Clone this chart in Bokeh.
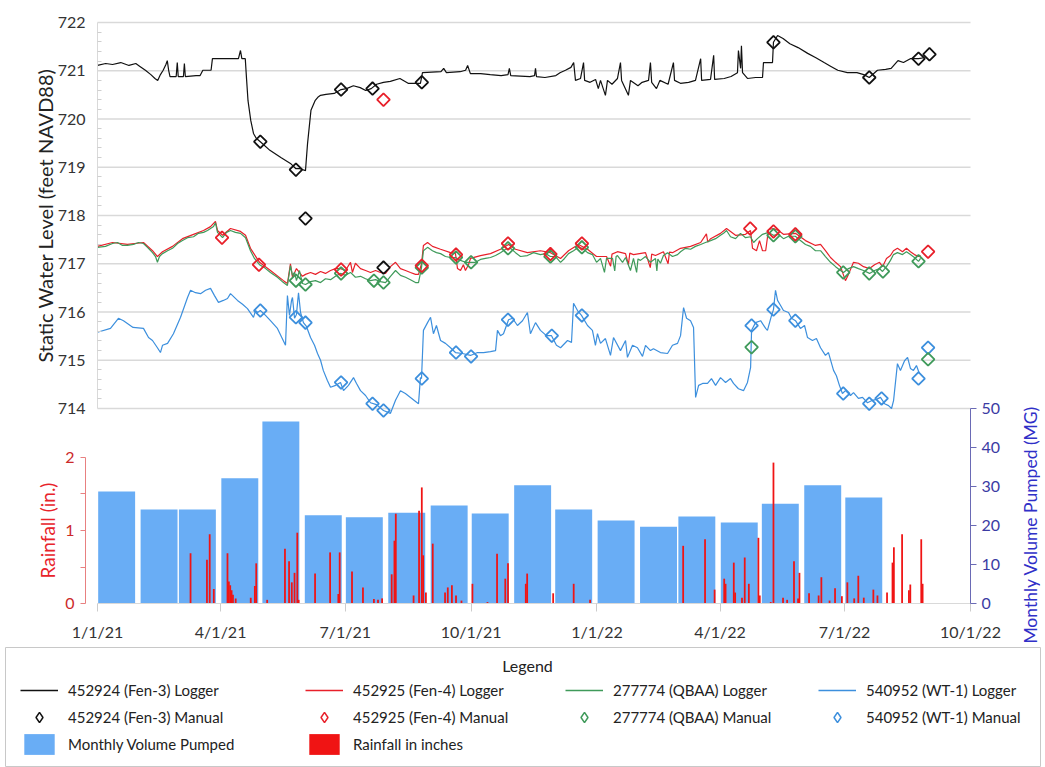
import math
from bokeh.plotting import figure
from bokeh.models import Range1d, LinearAxis, FixedTicker, Legend, LegendItem, Label
from bokeh.layouts import column
from bokeh.embed import file_html
from bokeh.resources import INLINE

FONT = "Lato"

# ---------------- data (x = days since 1/1/21) ----------------
x_tick_days = [0, 90, 181, 273, 365, 455, 546, 638]
x_tick_labels = ["1/1/21", "4/1/21", "7/1/21", "10/1/21", "1/1/22", "4/1/22", "7/1/22", "10/1/22"]
level_ticks = [714, 715, 716, 717, 718, 719, 720, 721, 722]
rain_ticks = [0, 1, 2]
mg_ticks = [0, 10, 20, 30, 40, 50]

pump_month_start = [0, 31, 59, 90, 120, 151, 181, 212, 243, 273, 304, 334, 365, 396, 424, 455, 485, 516, 546]
pump_mg = [28.7, 24.1, 24.1, 32.1, 46.7, 22.6, 22.1, 23.3, 25.1, 23.1, 30.3, 24.1, 21.3, 19.7, 22.3, 20.8, 25.6, 30.3, 27.2]

rain = [(68, 0.69), (80, 0.60), (82, 0.95), (85, 0.20), (95, 0.69), (96, 0.30), (97, 0.25), (98, 0.18), (99, 0.12),
        (101, 0.07), (112, 0.08), (115, 0.24), (116, 0.55), (124, 0.05), (137, 0.75), (140, 0.58), (142, 0.29),
        (144, 0.42), (146, 0.97), (147, 0.05), (159, 0.41), (170, 0.70), (176, 0.13), (177, 0.70), (186, 0.44),
        (194, 0.22), (202, 0.06), (205, 0.05), (208, 0.07), (215, 0.40), (217, 0.86), (218, 1.23), (231, 0.11),
        (235, 1.27), (237, 1.59), (238, 0.66), (240, 0.15), (245, 0.82), (254, 0.15), (256, 0.22), (259, 0.25),
        (262, 0.11), (266, 0.04), (274, 0.27), (285, 0.02), (292, 0.68), (298, 0.34), (300, 0.55), (313, 0.27),
        (314, 0.41), (333, 0.14), (348, 0.27), (360, 0.05), (428, 0.79), (444, 0.88), (451, 0.19), (458, 0.34),
        (459, 0.27), (465, 0.56), (466, 0.15), (471, 0.08), (473, 0.63), (476, 0.27), (483, 0.90), (484, 0.11),
        (492, 0.02), (494, 1.93), (501, 0.08), (504, 0.05), (509, 0.58), (512, 0.07), (513, 0.42), (520, 0.14),
        (527, 0.11), (529, 0.36), (535, 0.04), (539, 0.21), (544, 0.10), (548, 0.29), (553, 0.07), (556, 0.38),
        (560, 0.08), (567, 0.19), (570, 0.11), (577, 0.15), (581, 0.56), (582, 0.77), (588, 0.95), (593, 0.18),
        (594, 0.26), (602, 0.88), (603, 0.27)]

fen3_logger = [(0, 721.11), (6, 721.15), (11, 721.13), (17, 721.17), (23, 721.11), (28, 721.15), (31, 721.09),
               (35, 721.01), (39, 720.92), (42, 720.84), (44, 720.80), (46, 720.92), (48, 721.01), (50, 721.13),
               (51, 721.21), (52, 721.01), (53, 720.88), (57.5, 720.88), (58.3, 721.17), (59, 720.88), (62.8, 720.88),
               (63.5, 721.15), (64.2, 720.88), (72, 720.90), (75, 720.90), (77, 721.01), (83, 721.01), (84, 721.25),
               (94, 721.25), (103, 721.25), (104.5, 721.42), (105.5, 721.25), (108, 721.25), (109, 720.80),
               (110, 720.38), (112, 719.97), (114, 719.70), (116, 719.60), (119, 719.53), (126, 719.35),
               (134, 719.20), (141, 719.08), (145, 718.97), (148, 718.97), (152, 718.93), (153.5, 719.49),
               (156, 720.18), (159, 720.38), (161, 720.45), (163, 720.49), (167, 720.51), (173, 720.53),
               (178, 720.61), (182, 720.63), (187, 720.69), (192, 720.65), (196, 720.59), (200, 720.63),
               (204, 720.72), (209, 720.76), (214, 720.78), (221, 720.84), (227, 720.74), (232, 720.74),
               (236, 720.74), (237.5, 720.96), (251, 720.98), (253, 721.05), (255, 720.96), (265, 720.98),
               (269, 721.01), (270.5, 721.11), (272.5, 720.94), (280, 720.94), (287, 720.92), (295, 720.90),
               (300, 720.92), (301, 721.05), (302, 720.90), (316, 720.88), (319.4, 720.90), (320.1, 721.05),
               (320.8, 720.88), (327, 720.86), (335, 720.90), (338, 720.96), (342, 721.01), (346, 721.07),
               (348, 721.17), (349.3, 720.80), (353, 720.84), (355.2, 721.17), (356, 720.80), (360, 720.76),
               (364, 720.82), (366, 720.63), (367.6, 720.80), (371.2, 720.49), (372.7, 720.80), (376, 720.72),
               (380, 720.84), (382.2, 721.17), (383, 720.80), (388, 720.49), (389.5, 720.80), (395, 720.69),
               (398, 720.76), (402.7, 720.80), (404.1, 721.17), (405, 720.76), (408.5, 720.63), (411, 720.80),
               (417, 720.72), (420.9, 721.17), (421.7, 720.80), (426, 720.74), (432, 720.76), (437, 720.80),
               (440.8, 721.25), (441.5, 720.80), (448, 720.82), (450.3, 721.32), (451, 720.82), (458, 720.84),
               (463, 720.88), (467.7, 720.96), (468.4, 721.42), (470, 721.05), (470.6, 721.52), (471.4, 720.96),
               (475, 720.84), (481, 720.86), (486, 720.86), (486.7, 721.17), (493.3, 721.17), (494, 721.59),
               (497, 721.73), (501, 721.67), (506, 721.56), (512, 721.48), (519, 721.36), (525, 721.27),
               (531, 721.17), (536, 721.09), (541, 721.01), (548, 720.96), (555, 720.96), (560, 720.92),
               (564, 720.86), (570, 721.01), (576, 721.03), (580, 721.05), (585, 721.21), (589, 721.17),
               (594, 721.25), (600, 721.25), (604, 721.27)]

fen4_logger = [(0, 717.36), (11, 717.44), (21.9, 717.40), (33.6, 717.44), (40.2, 717.27), (43.8, 717.15),
               (47.5, 717.25), (54.8, 717.36), (62.1, 717.52), (70.2, 717.61), (77.5, 717.69), (82.6, 717.77),
               (86.2, 717.88), (87.7, 717.69), (91.4, 717.59), (97.2, 717.73), (104.5, 717.67), (108.2, 717.59),
               (111.8, 717.32), (118.4, 717.03), (126.4, 716.86), (135.9, 716.65), (138.8, 716.59), (141, 717.00),
               (142.5, 716.72), (145.4, 716.90), (149.8, 716.74), (152, 716.78), (155.7, 716.82), (159.3, 716.78),
               (163, 716.84), (166.6, 716.80), (170.3, 716.86), (173.9, 716.90), (177.6, 716.90), (181.2, 716.86),
               (184.9, 717.03), (186.3, 716.82), (188.5, 717.01), (192.2, 716.90), (195.9, 716.86), (199.5, 716.82),
               (203.2, 716.86), (206.8, 716.82), (210.5, 716.80), (214.1, 716.94), (217.8, 717.03), (221.4, 716.90),
               (225.1, 716.86), (228.7, 716.82), (232.4, 716.78), (234.6, 716.78), (236.8, 717.00), (238.2, 717.38),
               (241.2, 717.44), (244.8, 717.36), (250.7, 717.30), (258, 717.23), (261.6, 717.21), (263.1, 716.90),
               (265.3, 716.86), (267.4, 716.98), (268.9, 716.86), (271.1, 716.98), (272.6, 717.11), (279.9, 717.17),
               (287.2, 717.21), (294.5, 717.30), (300.4, 717.40), (305.5, 717.30), (314.2, 717.23), (323.7, 717.27),
               (331, 717.23), (338.4, 717.11), (344.2, 717.27), (351.5, 717.40), (358.1, 717.30), (364.7, 717.15),
               (372, 717.15), (375, 716.95), (376, 717.20), (380, 717.25), (385.9, 717.21), (388, 716.98),
               (389, 717.22), (391.7, 717.19), (400.5, 717.23), (404, 716.92), (405, 717.20), (407.8, 717.17),
               (413.6, 717.25), (417, 717.00), (418, 717.24), (420.2, 717.23), (426.1, 717.32), (433.4, 717.36),
               (440.8, 717.44), (445, 717.62), (446, 717.45), (448.1, 717.52), (455.3, 717.63), (459.7, 717.73),
               (466.3, 717.59), (473.6, 717.61), (477.2, 717.69), (478.7, 717.32), (481.6, 717.27), (483.8, 717.48),
               (486, 717.27), (488.3, 717.27), (490.4, 717.71), (494, 717.73), (497.6, 717.69), (501.3, 717.61),
               (510, 717.63), (517.4, 717.48), (524.7, 717.38), (528.4, 717.40), (532, 717.27), (535.7, 717.13),
               (539.4, 717.03), (543, 716.94), (546.6, 716.65), (548.8, 716.78), (552.5, 717.03), (556.1, 717.01),
               (559.8, 716.94), (564.2, 716.90), (567.9, 716.98), (571.5, 717.03), (573.7, 716.94), (576.6, 717.11),
               (579.5, 717.17), (581.7, 717.27), (584.6, 717.32), (588.3, 717.25), (591.2, 717.32), (594.1, 717.25),
               (597, 717.19), (600, 717.15), (601.5, 717.17)]

qbaa_logger = [(0, 717.34), (5.8, 717.36), (11, 717.42), (14.6, 717.44), (18.3, 717.38), (21.9, 717.38),
               (26.3, 717.40), (30, 717.44), (33.6, 717.42), (36.5, 717.34), (40.2, 717.23), (42.4, 717.15),
               (43.8, 717.03), (45.3, 717.15), (47.5, 717.21), (51.2, 717.27), (54.8, 717.32), (58.5, 717.42),
               (62.1, 717.48), (65.8, 717.54), (70.2, 717.56), (73.8, 717.63), (77.5, 717.65), (80.4, 717.69),
               (82.6, 717.73), (84.8, 717.77), (86.2, 717.85), (87.7, 717.65), (91.4, 717.54), (94.3, 717.65),
               (97.2, 717.69), (100.8, 717.65), (104.5, 717.63), (108.2, 717.54), (111.8, 717.27), (114.7, 717.11),
               (118.4, 716.98), (122, 716.92), (126.4, 716.82), (131.5, 716.72), (135.9, 716.61), (138.8, 716.55),
               (141, 716.96), (142.5, 716.76), (144, 716.82), (145.4, 716.65), (147.6, 716.86), (149.8, 716.59),
               (152, 716.57), (155.7, 716.63), (159.3, 716.65), (163, 716.61), (166.6, 716.69), (170.3, 716.67),
               (173.9, 716.74), (177.6, 716.80), (181.2, 716.76), (184.9, 716.82), (188.5, 716.72), (192.2, 716.74),
               (195.9, 716.69), (199.5, 716.65), (203.2, 716.67), (206.8, 716.63), (210.5, 716.61), (214.1, 716.74),
               (217.8, 716.86), (221.4, 716.76), (225.1, 716.72), (228.7, 716.67), (232.4, 716.61), (234.6, 716.61),
               (236.8, 716.92), (238.2, 717.27), (241.2, 717.34), (244.8, 717.27), (247.7, 717.23), (250.7, 717.21),
               (254.3, 717.15), (258, 717.13), (261.6, 717.13), (265.3, 717.07), (268.9, 717.03), (272.6, 717.03),
               (276.2, 717.03), (279.9, 717.09), (283.5, 717.11), (287.2, 717.13), (290.9, 717.17), (294.5, 717.23),
               (298.2, 717.30), (301.8, 717.32), (305.5, 717.23), (309.1, 717.15), (314.2, 717.17), (318.6, 717.23),
               (323.7, 717.19), (327.4, 717.21), (331, 717.15), (334.7, 717.15), (338.4, 717.03), (341.3, 717.11),
               (344.2, 717.21), (347.9, 717.27), (351.5, 717.34), (354.4, 717.32), (358.1, 717.23), (361.7, 717.19),
               (364.7, 717.03), (367.6, 717.11), (370.5, 716.82), (372, 717.11), (376.4, 717.11), (378, 716.85),
               (379, 717.15), (380, 717.17), (383.7, 717.03), (385.9, 717.13), (389.5, 716.86), (391.7, 717.11),
               (394, 716.82), (395, 717.10), (396.8, 717.07), (400.5, 717.15), (404.1, 717.03), (407.8, 717.11),
               (408.8, 716.85), (409.5, 717.10), (411.4, 717.01), (413.6, 717.17), (416.6, 717.23), (420.2, 717.15),
               (423.9, 717.19), (426.1, 717.25), (429.7, 717.32), (433.4, 717.30), (437, 717.36), (440.8, 717.40),
               (444.3, 717.44), (448.1, 717.48), (451.7, 717.52), (455.3, 717.59), (457.5, 717.63), (459.7, 717.69),
               (462.6, 717.56), (466.3, 717.52), (469.9, 717.63), (473.6, 717.54), (477.2, 717.56), (479.5, 717.44),
               (482.3, 717.52), (486, 717.61), (490.4, 717.65), (494, 717.59), (497.6, 717.61), (501.3, 717.52),
               (505, 717.57), (510, 717.57), (513.7, 717.48), (517.4, 717.40), (521, 717.36), (524.7, 717.27),
               (528.4, 717.27), (532, 717.15), (535.7, 717.03), (539.4, 716.94), (543, 716.86), (545.2, 716.82),
               (548.8, 716.90), (552.5, 716.94), (556.1, 716.90), (559.8, 716.86), (564.2, 716.80), (567.9, 716.86),
               (571.5, 716.90), (573.7, 716.84), (576.6, 716.94), (579.5, 717.07), (581.7, 717.19), (584.6, 717.23),
               (588.3, 717.19), (591.2, 717.25), (594.1, 717.19), (597, 717.13), (600, 717.05), (601.5, 717.11)]

wt1_logger = [(0, 715.58), (9.5, 715.66), (15.3, 715.87), (19, 715.82), (26, 715.68), (33.6, 715.66), (37.3, 715.47),
              (40.2, 715.41), (43.8, 715.26), (46, 715.16), (47.5, 715.31), (51.2, 715.35), (55.5, 715.55),
              (60.7, 715.89), (65.8, 716.30), (68, 716.45), (71.6, 716.40), (75.3, 716.38), (79, 716.45),
              (82.6, 716.49), (85.5, 716.34), (88.4, 716.20), (92, 716.24), (95, 716.28), (97.2, 716.38),
              (102.3, 716.24), (106, 716.16), (109.6, 716.07), (114, 715.89), (115.5, 716.03), (117, 715.99),
              (119, 716.03), (122.8, 715.93), (126.4, 715.82), (131.5, 715.66), (137.4, 715.31), (138.8, 716.34),
              (140.3, 715.93), (141.8, 716.24), (142.5, 716.30), (144, 715.87), (145.4, 715.95), (146.9, 716.40),
              (148.4, 715.99), (150.5, 715.78), (152.7, 715.70), (155.7, 715.47), (158.6, 715.31), (160.8, 715.14),
              (163, 715.00), (165, 714.79), (168, 714.58), (170.3, 714.44), (174, 714.48), (177.6, 714.54),
              (179.8, 714.37), (183.4, 714.48), (187.1, 714.64), (189.3, 714.52), (192.2, 714.37), (195.9, 714.27),
              (199.5, 714.12), (203.9, 714.08), (209, 713.96), (214.1, 713.90), (217.8, 714.17), (221.4, 714.37),
              (225, 714.31), (228.7, 714.23), (234.6, 714.10), (236, 714.64), (236.8, 714.62), (238.2, 715.62),
              (241.2, 715.78), (243.4, 715.89), (245.5, 715.55), (247.7, 715.72), (250.7, 715.41), (254.3, 715.35),
              (258, 715.26), (261.6, 715.16), (266.7, 715.14), (272.6, 715.10), (277.7, 715.16), (282.1, 715.16),
              (287.2, 715.18), (290.9, 715.20), (292.3, 715.62), (294.5, 715.51), (296.7, 715.55), (300.4, 715.84),
              (303.3, 715.87), (306.9, 715.72), (310.6, 715.82), (314.2, 715.99), (316.4, 715.55), (320.1, 715.78),
              (323.7, 715.62), (328.1, 715.51), (331.8, 715.51), (335.4, 715.31), (338.4, 715.26), (343.5, 715.41),
              (346.4, 715.37), (347.9, 716.18), (350.8, 716.03), (353.7, 715.93), (358.1, 715.72), (361.7, 715.62),
              (363.9, 715.31), (365.4, 715.55), (367.6, 715.35), (371.2, 715.45), (374.9, 715.10), (377.1, 715.47),
              (382.2, 715.20), (385.9, 715.41), (387.3, 715.06), (391, 715.31), (394.6, 715.26), (398.3, 715.08),
              (400.5, 715.31), (404.1, 715.20), (406.3, 715.24), (411.4, 715.16), (416.6, 715.14), (420.2, 715.31),
              (423.9, 715.35), (426.1, 715.51), (428.3, 716.09), (430.5, 715.87), (433.4, 715.82), (435.6, 715.68),
              (437.1, 714.23), (439.3, 714.48), (442.2, 714.52), (445.8, 714.52), (448.7, 714.62), (451.7, 714.48),
              (455.3, 714.64), (459, 714.54), (462.6, 714.62), (464.8, 714.52), (468.4, 714.41), (472.1, 714.37),
              (475, 714.54), (477.3, 714.85), (478, 715.62), (480.9, 715.78), (484.6, 715.82), (488.3, 715.66),
              (489.6, 715.62), (492.6, 715.93), (494, 716.05), (495.5, 716.45), (497, 716.24), (499.1, 716.14),
              (501.3, 716.03), (505, 715.99), (507.2, 715.87), (510.1, 715.82), (513.7, 715.66), (516.7, 715.72),
              (518.9, 715.47), (522.5, 715.41), (525.4, 715.45), (528.4, 715.26), (532, 715.10), (534.2, 715.16),
              (537.9, 714.79), (540, 714.68), (542.2, 714.48), (544.4, 714.31), (546.6, 714.37), (550.3, 714.27),
              (552.5, 714.33), (556.1, 714.21), (559.1, 714.23), (562.7, 714.12), (566.4, 714.17), (569.3, 714.19),
              (572.2, 714.23), (575.2, 714.10), (578.1, 714.06), (580.3, 714.00), (581.8, 714.17), (584.6, 714.93),
              (586.8, 714.79), (589.8, 714.99), (592, 715.06), (594.1, 714.83), (596.3, 714.79), (598.5, 714.89),
              (600.7, 714.72)]

fen3_manual = [(119, 719.53), (145, 718.95), (152, 717.94), (178, 720.61), (201, 720.63), (209, 716.92),
               (237, 720.76), (494, 721.59), (564, 720.86), (600, 721.25), (608, 721.34)]
fen4_manual = [(91, 717.54), (118, 716.98), (178, 716.88), (209, 720.40), (237, 716.96), (262, 717.19),
               (300, 717.42), (331, 717.20), (354, 717.42), (477, 717.73), (494, 717.67), (510, 717.61), (607, 717.25)]
qbaa_manual = [(145, 716.65), (152, 716.57), (178, 716.80), (202, 716.65), (209, 716.61), (237, 716.92),
               (262, 717.13), (273, 717.03), (300, 717.32), (331, 717.15), (354, 717.34), (478, 715.27),
               (494, 717.59), (510, 717.57), (545, 716.82), (564, 716.80), (574, 716.84), (600, 717.05), (607, 715.02)]
wt1_manual = [(119, 716.03), (145, 715.89), (152, 715.78), (178, 714.54), (201, 714.10), (209, 713.96),
              (237, 714.62), (262, 715.16), (273, 715.08), (300, 715.84), (332, 715.51), (354, 715.93),
              (478, 715.72), (494, 716.05), (510, 715.82), (545, 714.31), (564, 714.10), (573, 714.21),
              (600, 714.62), (607, 715.26)]

series_names = ["452924 (Fen-3)", "452925 (Fen-4)", "277774 (QBAA)", "540952 (WT-1)"]

# ---------------- styles ----------------
C_FEN3 = "#111111"
C_FEN4 = "#e8202a"
C_QBAA = "#3f9a5a"
C_WT1 = "#3c8fdd"
C_PUMP = "#69adf5"
C_RAIN = "#f01414"
GRID = "#d9d9d9"


def split(pairs):
    return [a for a, _ in pairs], [b for _, b in pairs]


# One frame covering the whole chart area; the axes are pinned with fixed_location.
p = figure(width=1045, height=647,
           x_range=Range1d(-67.23, 689.15), y_range=Range1d(709.047, 722.456),
           x_axis_location=None, y_axis_location=None,
           output_backend="svg", toolbar_location=None,
           min_border_left=5, min_border_right=5, min_border_top=0, min_border_bottom=0)
p.outline_line_color = None
p.grid.visible = False
p.extra_y_ranges = {"rain": Range1d(-0.6027, 8.260), "mg": Range1d(-11.28, 154.62)}

# horizontal grid lines of the water-level panel
n_lv = len(level_ticks)
p.segment(x0=[x_tick_days[0]] * n_lv, y0=level_ticks, x1=[x_tick_days[-1]] * n_lv, y1=level_ticks,
          line_color=GRID, line_width=1.6)

# water level axis
ya = LinearAxis(fixed_location=0, bounds=(714, 722),
                ticker=FixedTicker(ticks=level_ticks,
                                   minor_ticks=[714 + 0.2 * k for k in range(1, 40) if k % 5]))
ya.axis_line_color = GRID
ya.major_tick_in = 0
ya.major_tick_out = 0
ya.minor_tick_in = 4
ya.minor_tick_out = 0
ya.minor_tick_line_color = "#cfcfcf"
ya.major_label_standoff = 12
ya.major_label_text_font = FONT
ya.major_label_text_font_size = "16px"
ya.major_label_text_color = "#333333"
p.add_layout(ya, "left")

# x axis
xa = LinearAxis(fixed_location=709.958, bounds=(x_tick_days[0], x_tick_days[-1]),
                ticker=FixedTicker(ticks=x_tick_days))
xa.major_label_overrides = {d: s for d, s in zip(x_tick_days, x_tick_labels)}
xa.axis_line_color = GRID
xa.major_tick_line_color = "#cccccc"
xa.major_tick_in = 0
xa.major_tick_out = 8
xa.minor_tick_line_color = None
xa.major_label_standoff = 10
xa.major_label_text_font = FONT
xa.major_label_text_font_size = "16px"
xa.major_label_text_color = "#333333"
p.add_layout(xa, "below")

# rainfall axis
ra = LinearAxis(y_range_name="rain", fixed_location=-8.8, bounds=(0, 2),
                ticker=FixedTicker(ticks=rain_ticks, minor_ticks=[0.5, 1.5]))
ra.axis_line_color = "#e88080"
ra.major_tick_line_color = "#e88080"
ra.minor_tick_line_color = "#e88080"
ra.major_tick_in = 0
ra.major_tick_out = 5
ra.minor_tick_in = 0
ra.minor_tick_out = 5
ra.major_label_standoff = 6
ra.major_label_text_font = FONT
ra.major_label_text_font_size = "16px"
ra.major_label_text_color = "#cc2a2a"
p.add_layout(ra, "left")

# monthly volume axis
ma = LinearAxis(y_range_name="mg", fixed_location=638, bounds=(0, 50), ticker=FixedTicker(ticks=mg_ticks))
ma.axis_line_color = "#6a6ab5"
ma.major_tick_line_color = "#6a6ab5"
ma.major_tick_in = 0
ma.major_tick_out = 6
ma.minor_tick_line_color = None
ma.major_label_standoff = 5
ma.major_label_text_font = FONT
ma.major_label_text_font_size = "16px"
ma.major_label_text_color = "#3b3ba3"
p.add_layout(ma, "right")

# axis titles
p.add_layout(Label(x=-38.0, y=718, text="Static Water Level (feet NAVD88)", angle=math.pi / 2,
                   text_align="center", text_baseline="middle", text_font=FONT,
                   text_font_size="20px", text_color="#222222"))
p.add_layout(Label(x=-36.5, y=1.0, y_range_name="rain", text="Rainfall (in.)", angle=math.pi / 2,
                   text_align="center", text_baseline="middle", text_font=FONT,
                   text_font_size="19px", text_color="#e8232a"))
p.add_layout(Label(x=681.8, y=20.8, y_range_name="mg", text="Monthly Volume Pumped  (MG)", angle=math.pi / 2,
                   text_align="center", text_baseline="middle", text_font=FONT,
                   text_font_size="17.5px", text_color="#3030c8"))

# bars
p.vbar(x=[s + 14 for s in pump_month_start], top=pump_mg, width=27, y_range_name="mg",
       fill_color=C_PUMP, line_color=None)
rx, ry = split(rain)
p.vbar(x=rx, top=ry, width=1.3, y_range_name="rain", fill_color=C_RAIN, line_color=None)

# logger lines
for pairs, col in [(wt1_logger, C_WT1), (fen4_logger, C_FEN4), (qbaa_logger, C_QBAA), (fen3_logger, C_FEN3)]:
    lx, ly = split(pairs)
    p.line(lx, ly, line_color=col, line_width=1.2)

# manual measurements
for pairs, col in [(wt1_manual, C_WT1), (qbaa_manual, C_QBAA), (fen4_manual, C_FEN4), (fen3_manual, C_FEN3)]:
    mx, my = split(pairs)
    p.scatter(mx, my, marker="square", angle=math.pi / 4, size=9, fill_alpha=0,
              line_color=col, line_width=1.8)

# ---------------- legend panel ----------------
lf = figure(width=1045, height=120, x_range=Range1d(0, 1), y_range=Range1d(0, 1),
            x_axis_location=None, y_axis_location=None,
            output_backend="svg", toolbar_location=None,
            min_border_left=5, min_border_right=5, min_border_top=0, min_border_bottom=0)
lf.outline_line_color = "#c8c8c8"
lf.grid.visible = False

# legend proxies: glyphs placed outside the visible range of this panel
line_cols = [C_FEN3, C_FEN4, C_QBAA, C_WT1]
columns_items = []
for name, col in zip(series_names, line_cols):
    rl = lf.line(x=[-5, -4], y=[-5, -5], line_color=col, line_width=1.5)
    rm = lf.scatter(x=[-5], y=[-5], marker="diamond", size=12, fill_alpha=0,
                    line_color=col, line_width=1.5)
    columns_items.append([LegendItem(label=name + " Logger", renderers=[rl]),
                          LegendItem(label=name + " Manual", renderers=[rm])])
rb = lf.vbar(x=[-5], top=[-5], width=1, fill_color=C_PUMP, line_color=None)
columns_items[0].append(LegendItem(label="Monthly Volume Pumped", renderers=[rb]))
rr = lf.vbar(x=[-5], top=[-5], width=1, fill_color=C_RAIN, line_color=None)
columns_items[1].append(LegendItem(label="Rainfall in inches", renderers=[rr]))

col_x = [15, 300, 560, 813]
for cx, its in zip(col_x, columns_items):
    h = len(its) * 26 + (len(its) - 1) * 1
    leg = Legend(items=its, orientation="vertical", location=(cx, 120 - 30 - h),
                 glyph_width=38, glyph_height=26, label_width=150, label_height=20,
                 label_standoff=10, spacing=1, padding=0, margin=0,
                 border_line_color=None, background_fill_alpha=0,
                 label_text_font=FONT, label_text_font_size="15px", label_text_color="#222222")
    lf.add_layout(leg)

lf.add_layout(Label(x=522, y=102, x_units="screen", y_units="screen", text="Legend",
                    text_align="center", text_baseline="middle", text_font=FONT,
                    text_font_size="16px", text_color="#222222"))

layout = column(p, lf)
open("out.html", "w").write(file_html(layout, INLINE))
